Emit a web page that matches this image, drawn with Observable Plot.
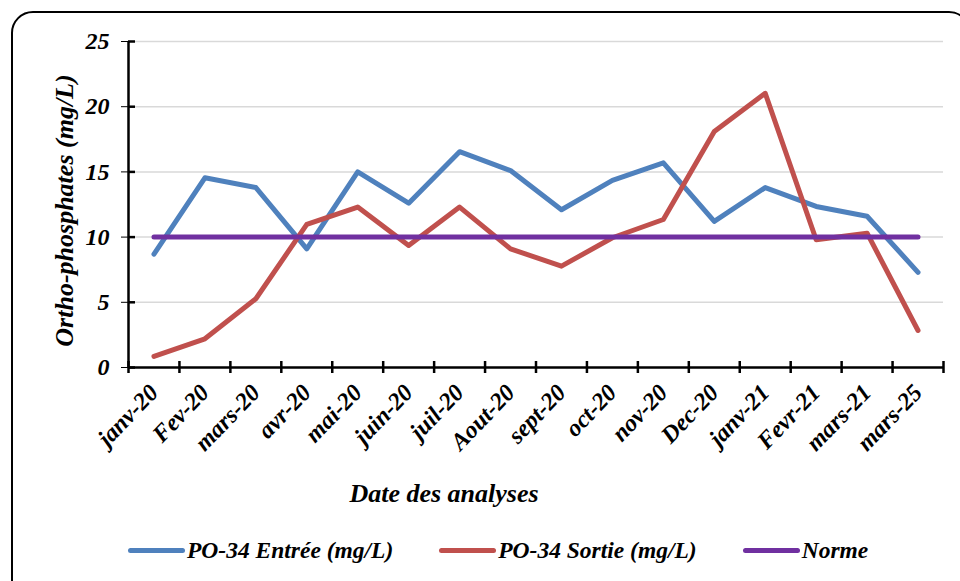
<!DOCTYPE html>
<html>
<head>
<meta charset="utf-8">
<script src="https://cdn.jsdelivr.net/npm/d3@7"></script>
<script src="https://cdn.jsdelivr.net/npm/@observablehq/plot@0.6"></script>
<style>
  html, body { margin: 0; padding: 0; background: #fff; width: 960px; height: 581px; overflow: hidden; position: relative; }
  #frame { position: absolute; left: 11px; top: 11px; width: 960px; height: 620px; border: 2px solid #000; border-radius: 22px; box-sizing: border-box; }
  #chart { position: absolute; left: 0; top: 0; }
  #legend { position: absolute; left: 128px; top: 536px; display: flex; align-items: center; line-height: 28px;
    font-family: "Liberation Serif", "Times New Roman", serif; font-weight: bold; font-style: italic; font-size: 23.5px; color: #000; }
  .item { display: flex; align-items: center; margin-right: 46px; }
  .sw { width: 57px; height: 5px; border-radius: 3px; margin-right: 2px; }
</style>
</head>
<body>
<div id="frame"></div>
<div id="chart"></div>
<div id="legend"></div>
<script>
const months = ["janv-20","Fev-20","mars-20","avr-20","mai-20","juin-20","juil-20","Aout-20","sept-20","oct-20","nov-20","Dec-20","janv-21","Fevr-21","mars-21","mars-25"];
const entree = [8.7, 14.55, 13.8, 9.1, 15.0, 12.6, 16.55, 15.1, 12.1, 14.35, 15.7, 11.2, 13.8, 12.35, 11.6, 7.3];
const sortie = [0.85, 2.2, 5.27, 10.97, 12.3, 9.36, 12.3, 9.1, 7.77, 9.95, 11.35, 18.1, 21.03, 9.8, 10.3, 2.84];
const norme = [10, 10, 10, 10, 10, 10, 10, 10, 10, 10, 10, 10, 10, 10, 10, 10];
const yTicks = [0, 5, 10, 15, 20, 25];
const seriesNames = ["PO-34 Entrée (mg/L)", "PO-34 Sortie (mg/L)", "Norme"];
const seriesColors = ["#4F81BD", "#C0504D", "#7030A0"];

const W = 960, H = 530, mL = 128, mR = 17, mT = 41, mB = 163;
const step = (W - mL - mR) / months.length;

const rows = (vals, s) => months.map((m, i) => ({month: m, value: vals[i], series: s}));
const dataE = rows(entree, seriesNames[0]);
const dataS = rows(sortie, seriesNames[1]);
const dataN = rows(norme, seriesNames[2]);

const chart = Plot.plot({
  width: W, height: H,
  marginLeft: mL, marginRight: mR, marginTop: mT, marginBottom: mB,
  style: {fontFamily: "'Liberation Serif', 'Times New Roman', serif", fontWeight: "bold", fontStyle: "italic", fontSize: "24px", color: "#000", background: "transparent", overflow: "visible"},
  x: {type: "point", domain: months, padding: 0.5, round: false, tickSize: 0, tickRotate: -46, tickPadding: 21, label: null},
  y: {domain: [0, 25], ticks: yTicks, tickSize: 7, tickPadding: 12, label: null, tickFormat: d => String(d)},
  marks: [
    Plot.ruleY(yTicks.filter(d => d > 0), {stroke: "#d9d9d9", strokeWidth: 1.5}),
    Plot.line(dataE, {x: "month", y: "value", stroke: seriesColors[0], strokeWidth: 5, strokeLinejoin: "round"}),
    Plot.line(dataS, {x: "month", y: "value", stroke: seriesColors[1], strokeWidth: 5, strokeLinejoin: "round"}),
    Plot.line(dataN, {x: "month", y: "value", stroke: seriesColors[2], strokeWidth: 5}),
    // x axis line
    Plot.ruleY([0], {stroke: "#000", strokeWidth: 2.5}),
    // y axis line
    Plot.ruleX([months[0]], {y1: 0, y2: 25, dx: -step / 2, stroke: "#000", strokeWidth: 2.5}),
    // right half of y ticks
    Plot.ruleY(yTicks, {stroke: "#000", strokeWidth: 2.5, insetRight: W - mL - mR - 7}),
    // category boundary ticks on x axis
    Plot.ruleX(months, {y1: 0, y2: 0, insetTop: -6, insetBottom: -6, dx: -step / 2, stroke: "#000", strokeWidth: 2.5}),
    Plot.ruleX([months[months.length - 1]], {y1: 0, y2: 0, insetTop: -6, insetBottom: -6, dx: step / 2, stroke: "#000", strokeWidth: 2.5}),
    // axis titles
    Plot.text(["Ortho-phosphates (mg/L)"], {frameAnchor: "left", textAnchor: "middle", lineAnchor: "middle", dx: -64, dy: 6, rotate: -90, fontSize: 26, fill: "#000"}),
    Plot.text(["Date des analyses"], {frameAnchor: "bottom", textAnchor: "middle", lineAnchor: "middle", dy: 126, dx: -92, fontSize: 26, fill: "#000"})
  ]
});
document.getElementById("chart").appendChild(chart);

const legend = document.getElementById("legend");
seriesNames.forEach((n, i) => {
  const it = document.createElement("div");
  it.className = "item";
  const sw = document.createElement("div");
  sw.className = "sw";
  sw.style.background = seriesColors[i];
  const t = document.createElement("span");
  t.textContent = n;
  it.appendChild(sw); it.appendChild(t);
  legend.appendChild(it);
});
</script>
</body>
</html>
